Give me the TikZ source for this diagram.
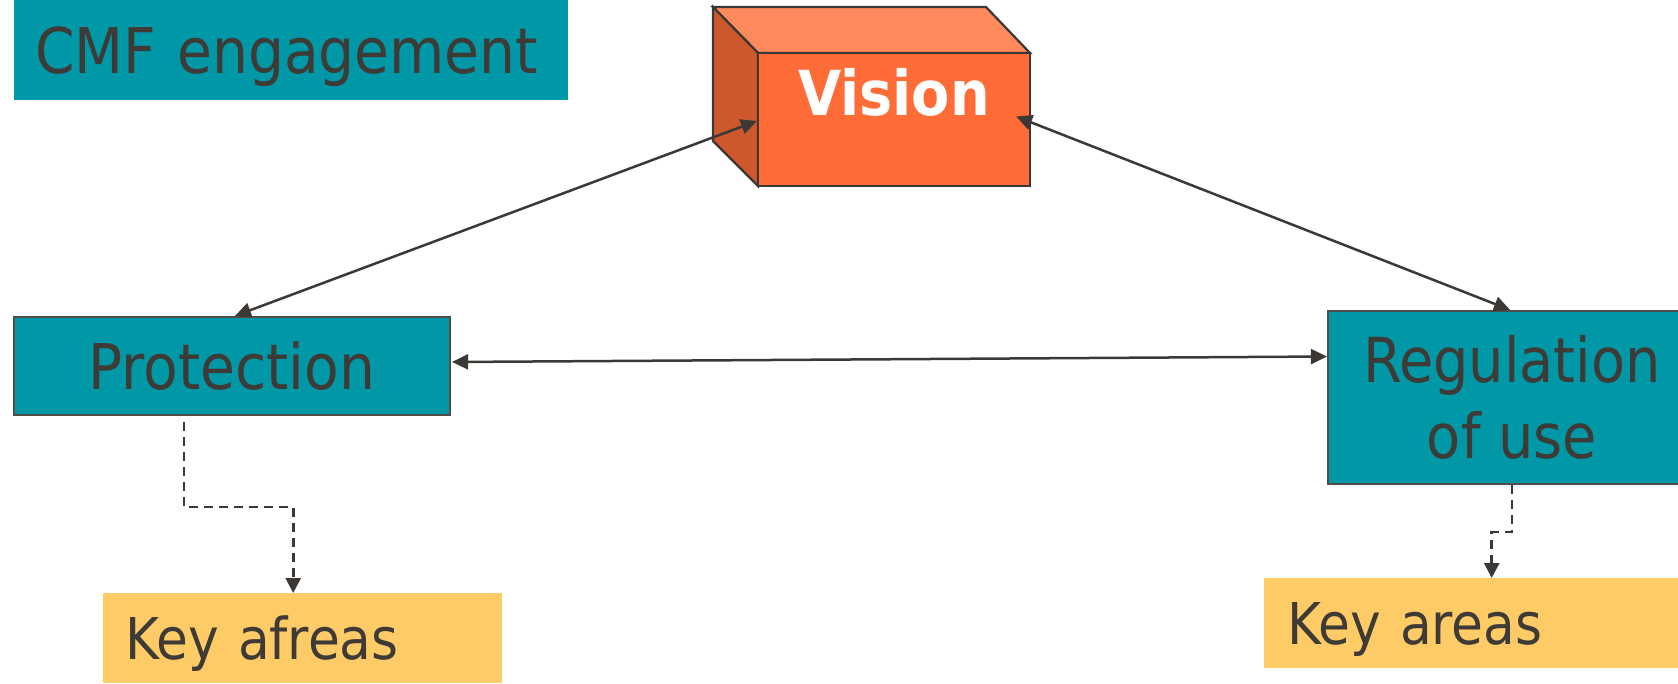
\documentclass[tikz,border=0pt]{standalone}
\usepackage{fontspec}
\setmainfont{DejaVu Sans Condensed}
\usetikzlibrary{arrows.meta,calc}
\definecolor{teal}{HTML}{0097A7}
\definecolor{ink}{HTML}{3E3A35}
\definecolor{linec}{HTML}{3B3835}
\definecolor{orfront}{HTML}{FF6C37}
\definecolor{ortop}{HTML}{FF8A5E}
\definecolor{orside}{HTML}{CC582C}
\definecolor{keyc}{HTML}{FFCB66}
\begin{document}
\begin{tikzpicture}[x=1pt,y=-1pt,
  bigtext/.style={font=\fontsize{63}{76}\selectfont, text=ink},
  keytext/.style={font=\fontsize{57.6}{70}\selectfont, text=ink},
  tealbox/.style={rectangle, fill=teal, draw=linec!90, line width=2.2pt, inner sep=0pt, bigtext},
  keybox/.style={rectangle, fill=keyc, inner sep=0pt, keytext, align=left, text height=42pt, text depth=0pt},
  conn/.style={draw=linec, line width=2.5pt, {Triangle[length=16pt,width=15pt]}-{Triangle[length=16pt,width=15pt]}},
  dashconn/.style={draw=linec, line width=2.6pt, dash pattern=on 9pt off 6pt, -{Triangle[length=15pt,width=15pt]}},
  facestyle/.style={draw=linec, line width=2.2pt, line join=miter}
]
\clip (0,0) rectangle (1678,683);
\fill[white] (0,0) rectangle (1678,683);

% title box
\node[rectangle, fill=teal, inner sep=0pt, minimum height=100pt, text width=512pt,
      inner xsep=21pt, align=left, bigtext, text height=46pt, text depth=0pt,
      anchor=north west] (cmf) at (14,0) {CMF engagement};

% vision box (3D)
\filldraw[facestyle, fill=ortop] (713,7) -- (986,7) -- (1030,53) -- (758,53) -- cycle;
\filldraw[facestyle, fill=orside] (713,7) -- (758,53) -- (758,186) -- (713,141) -- cycle;
\node[rectangle, fill=orfront, draw=linec, line width=2.2pt, inner sep=0pt,
      minimum width=272pt, minimum height=133pt,
      font=\fontsize{62}{76}\selectfont\bfseries, text=white,
      text height=47pt, text depth=56pt] (vision) at (894,119.5) {Vision};

% protection
\node[tealbox, minimum width=436pt, minimum height=98pt, text height=46pt, text depth=0pt] (prot) at (232,366) {Protection};

% regulation
\node[tealbox, minimum width=368pt, minimum height=173pt, align=center,
      font=\fontsize{62}{76}\selectfont] (reg) at (1512,397.5) {Regulation\\of use};

% key areas
\node[keybox, minimum height=90pt, text width=355pt, inner xsep=22pt, anchor=north west] (keyL) at (103,593) {Key afreas};
\node[keybox, minimum height=90pt, text width=413pt, inner xsep=23pt, anchor=north west] (keyR) at (1264,578) {Key areas};

% connectors
\draw[conn] ($(prot.north)+(3,0)$) -- ($(vision.west)+(0,1.5)$);
\draw[conn] ($(vision.east)+(-15,-3)$) -- ($(reg.north)+(-2,0)$);
\draw[conn] ($(prot.east)+(1,-4)$) -- ($(reg.west)+(0,-41)$);

\coordinate (pa) at ($(prot.south)+(-48,6)$);
\coordinate (ka) at ($(keyL.north)+(-9.5,0)$);
\draw[dashconn] (pa) -- (pa |- 0,507) -| (ka);

\coordinate (ra) at (reg.south);
\coordinate (kb) at ($(keyR.north)+(-2,0)$);
\draw[dashconn] (ra) -- (ra |- 0,532) -| (kb);
\end{tikzpicture}
\end{document}
